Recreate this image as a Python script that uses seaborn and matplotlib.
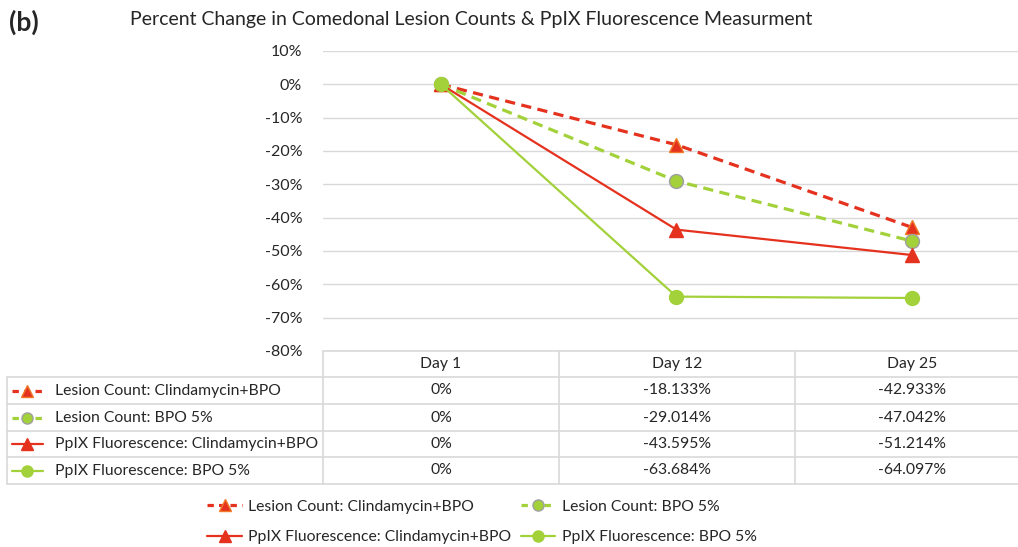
import pandas as pd
import numpy as np
import matplotlib.pyplot as plt
import seaborn as sns
from matplotlib.lines import Line2D

# Datos
days = ['Day 1', 'Day 12', 'Day 25']
lesion_clinda = [0.0, -18.133, -42.933]
lesion_bpo = [0.0, -29.014, -47.042]
ppix_clinda = [0.0, -43.595, -51.214]
ppix_bpo = [0.0, -63.684, -64.097]
series_names = ['Lesion Count: Clindamycin+BPO', 'Lesion Count: BPO 5%',
                'PpIX Fluorescence: Clindamycin+BPO', 'PpIX Fluorescence: BPO 5%']
y_ticks = list(range(10, -90, -10))

RED = '#E5321F'
ORANGE = '#F07A28'
GREEN = '#A2D13A'
GRID = '#D9D9D9'
TXT = '#262626'
FS = 11.3

sns.set_style('white')
plt.rcParams['font.family'] = ['Lato', 'DejaVu Sans']

W, H = 1018, 547
fig = plt.figure(figsize=(W / 100, H / 100), dpi=100)

def fx(px):
    return px / W

def fy(py):
    return 1 - py / H

# Ejes principales
x0, x1, ytop, ybot = 323, 1030, 51, 351
ax = fig.add_axes([fx(x0), fy(ybot), fx(x1 - x0), (ybot - ytop) / H])

DASH = (0, (3.2, 2.0))
styles = [
    dict(color=RED, ls=DASH, lw=2.3, marker='^', ms=10, mfc=RED, mec=ORANGE, mew=1),
    dict(color=GREEN, ls=DASH, lw=2.3, marker='o', ms=10, mfc=GREEN, mec='#A0A0A0', mew=1),
    dict(color=RED, ls='-', lw=1.6, marker='^', ms=10, mfc=RED, mec=RED, mew=1),
    dict(color=GREEN, ls='-', lw=1.6, marker='o', ms=10, mfc=GREEN, mec=GREEN, mew=1),
]
all_series = [lesion_clinda, lesion_bpo, ppix_clinda, ppix_bpo]

df = pd.DataFrame({'day': np.tile(np.arange(len(days)), 4),
                   'value': np.concatenate(all_series),
                   'serie': np.repeat(series_names, len(days))})

# orden natural: la última serie queda encima (como en Excel)
for name, st in zip(series_names, styles):
    sub = df[df['serie'] == name]
    sns.lineplot(data=sub, x='day', y='value', ax=ax, color=st['color'],
                 linestyle=st['ls'], linewidth=st['lw'], marker=st['marker'],
                 markersize=st['ms'], markerfacecolor=st['mfc'],
                 markeredgecolor=st['mec'], markeredgewidth=st['mew'],
                 legend=False, zorder=3)

ax.set_xlim(-0.5, 2.5)
ax.set_ylim(-80, 10)
ax.set_yticks(y_ticks)
ax.set_yticklabels([f'{v}%' for v in y_ticks], fontsize=11.5, color=TXT)
ax.set_xticks([])
ax.set_xlabel('')
ax.set_ylabel('')
ax.grid(axis='y', color=GRID, lw=1)
ax.tick_params(axis='y', length=0, pad=15)
for s in ax.spines.values():
    s.set_visible(False)

# Títulos
fig.text(fx(9), fy(22), '(b)', fontsize=19, fontweight='bold', va='center', ha='left')
fig.text(fx(471), fy(19), 'Percent Change in Comedonal Lesion Counts & PpIX Fluorescence Measurment',
         fontsize=14, va='center', ha='center', color=TXT)

# Tabla de datos
tab = fig.add_axes([0, 0, 1, 1])
tab.set_xlim(0, W)
tab.set_ylim(H, 0)
tab.axis('off')

col_edges = [x0, 559, 795, x1]
row_edges = [351, 377, 404, 431, 457, 484]
lkw = dict(color=GRID, lw=1.2)
tab.plot([x0, x1], [row_edges[0]] * 2, **lkw)
for yy in row_edges[1:]:
    tab.plot([7, x1], [yy, yy], **lkw)
tab.plot([7, 7], [row_edges[1], row_edges[-1]], **lkw)
for xx in col_edges:
    tab.plot([xx, xx], [row_edges[0], row_edges[-1]], **lkw)

for j, d in enumerate(days):
    xc = (col_edges[j] + col_edges[j + 1]) / 2
    tab.text(xc, (row_edges[0] + row_edges[1]) / 2, d, ha='center', va='center',
             fontsize=FS, color=TXT)

KEYDASH = (0, (2.0, 1.6))
for i, (name, st, vals) in enumerate(zip(series_names, styles, all_series)):
    yc = (row_edges[i + 1] + row_edges[i + 2]) / 2
    tab.add_line(Line2D([12, 43], [yc, yc], color=st['color'],
                        linestyle=KEYDASH if i < 2 else '-', lw=st['lw']))
    tab.add_line(Line2D([27.5], [yc], color='none', marker=st['marker'], ms=8,
                        mfc=st['mfc'], mec=st['mec'], mew=st['mew']))
    tab.text(55, yc, name, ha='left', va='center', fontsize=FS, color=TXT)
    for j, v in enumerate(vals):
        xc = (col_edges[j] + col_edges[j + 1]) / 2
        txt = '0%' if v == 0 else f'{v:.3f}%'
        tab.text(xc, yc, txt, ha='center', va='center', fontsize=FS, color=TXT)

# Leyenda inferior (orden por filas)
handles = [Line2D([0], [0], color=st['color'], linestyle=KEYDASH if i < 2 else '-',
                  lw=st['lw'], marker=st['marker'], ms=8, mfc=st['mfc'], mec=st['mec'],
                  mew=st['mew']) for i, st in enumerate(styles)]
order = [0, 2, 1, 3]
leg = fig.legend([handles[k] for k in order], [series_names[k] for k in order],
                 ncol=2, loc='center',
                 bbox_to_anchor=(fx(482), fy(522)), frameon=False, fontsize=FS,
                 handlelength=2.2, handletextpad=0.4, columnspacing=0.6,
                 labelspacing=1.07)
for t in leg.get_texts():
    t.set_color(TXT)

fig.savefig('out.png', dpi=100)
